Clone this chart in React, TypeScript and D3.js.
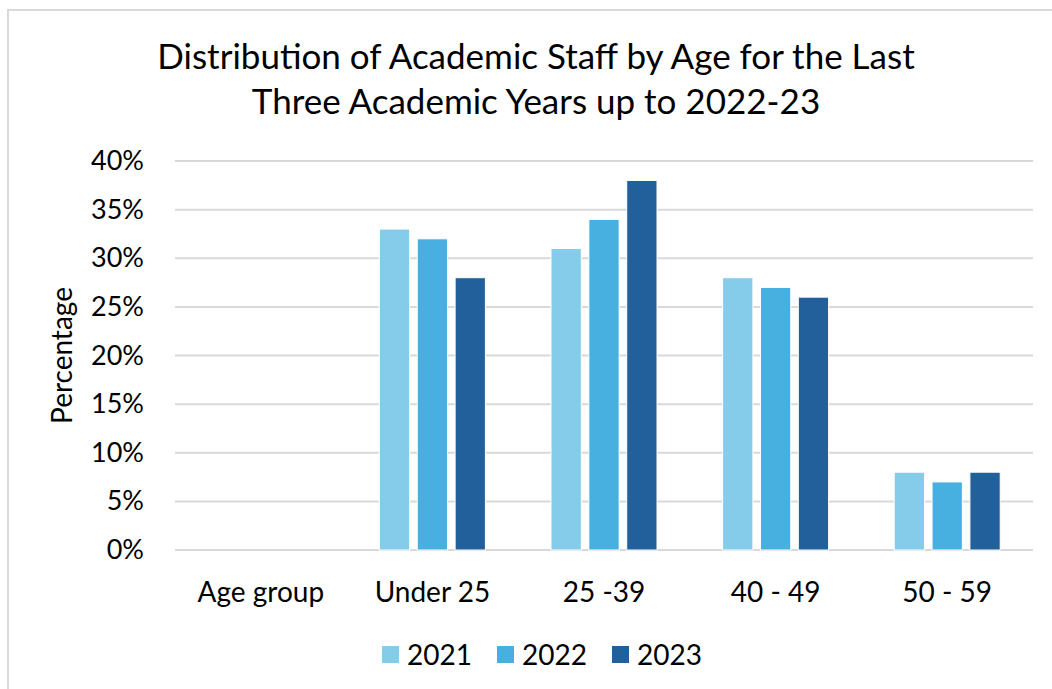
import React from "react";
import * as d3 from "d3";

const categories = ["Age group", "Under 25", "25 -39", "40 - 49", "50 - 59"];
const years = ["2021", "2022", "2023"];
const values2021 = [null, 33, 31, 28, 8];
const values2022 = [null, 32, 34, 27, 7];
const values2023 = [null, 28, 38, 26, 8];
const yTicks = [0, 5, 10, 15, 20, 25, 30, 35, 40];
const colors = ["#85CBEA", "#47B0E0", "#21609B"];

const W = 1052;
const H = 689;
const FONT = "Lato, 'Open Sans', sans-serif";

export default function App() {
  const series = [values2021, values2022, values2023];
  const x0 = d3.scaleBand<string>().domain(categories).range([175, 1033]).padding(0);
  const groupW = 106;
  const x1 = d3.scaleBand<string>().domain(years).range([0, groupW]).paddingInner(0.2);
  const y = d3.scaleLinear().domain([0, 40]).range([550, 161]);
  const off = (x0.bandwidth() - groupW) / 2;

  return (
    <svg width={W} height={H} style={{ position: "absolute", left: 0, top: 0, background: "#fff" }}>
      <rect x={8} y={10} width={W} height={H} fill="#fff" stroke="#d9d9d9" strokeWidth={2} />
      <text x={536} y={69} textAnchor="middle" fontFamily={FONT} fontSize={35} fill="#000">
        Distribution of Academic Staff by Age for the Last
      </text>
      <text x={536} y={114} textAnchor="middle" fontFamily={FONT} fontSize={35} fill="#000">
        Three Academic Years up to 2022-23
      </text>
      {yTicks.map((t) => (
        <g key={t}>
          <line x1={175} x2={1033} y1={y(t)} y2={y(t)} stroke="#d9d9d9" strokeWidth={2} />
          <text x={144} y={y(t) + 9} textAnchor="end" fontFamily={FONT} fontSize={27} fill="#000">
            {t}%
          </text>
        </g>
      ))}
      <text
        transform={`translate(72, ${y(20)}) rotate(-90)`}
        textAnchor="middle"
        fontFamily={FONT}
        fontSize={28}
        fill="#000"
      >
        Percentage
      </text>
      {categories.map((c, i) => (
        <g key={c}>
          {series.map((vals, s) => {
            const v = vals[i];
            if (v == null) return null;
            return (
              <rect
                key={s}
                x={(x0(c) as number) + off + (x1(years[s]) as number)}
                y={y(v)}
                width={x1.bandwidth()}
                height={y(0) - y(v)}
                fill={colors[s]}
                stroke="#fff"
                strokeWidth={1}
              />
            );
          })}
          <text
            x={(x0(c) as number) + x0.bandwidth() / 2}
            y={602}
            textAnchor="middle"
            fontFamily={FONT}
            fontSize={28}
            fill="#000"
          >
            {c}
          </text>
        </g>
      ))}
      {years.map((yr, i) => {
        const lx = 382 + i * 115;
        return (
          <g key={yr}>
            <rect x={lx} y={646} width={17} height={17} fill={colors[i]} />
            <text x={lx + 25} y={665} fontFamily={FONT} fontSize={28} fill="#000">
              {yr}
            </text>
          </g>
        );
      })}
    </svg>
  );
}
